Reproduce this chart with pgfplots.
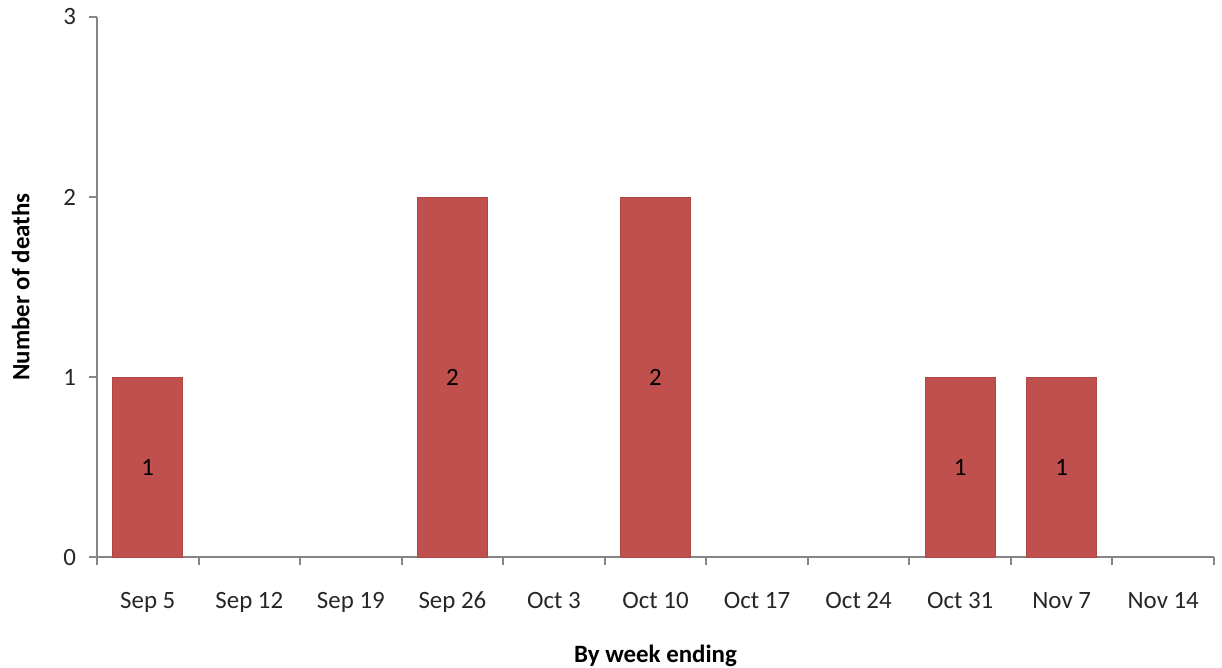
\documentclass[border=0pt]{standalone}
\usepackage{fontspec}
\setmainfont{Carlito}
\usepackage{pgfplots}
\pgfplotsset{compat=1.18}
\definecolor{barred}{HTML}{C0504D}
\definecolor{axgray}{HTML}{868686}
\begin{document}
\begin{tikzpicture}[x=1bp,y=1bp]
\useasboundingbox (-48.5,-55) rectangle (562.5,278.5);
\begin{axis}[
  at={(0,0)}, anchor=south west,
  scale only axis,
  width=558.5bp, height=270bp,
  xmin=-0.5, xmax=10.5,
  ymin=0, ymax=3,
  axis x line*=bottom,
  axis y line*=left,
  axis line style={axgray, line width=1bp},
  ytick={0,1,2,3},
  xtick={0,...,10},
  xticklabels={Sep 5,Sep 12,Sep 19,Sep 26,Oct 3,Oct 10,Oct 17,Oct 24,Oct 31,Nov 7,Nov 14},
  minor xtick={-0.5,0.5,...,10.5},
  major x tick style={draw=none},
  minor tick length=4bp,
  major tick length=4bp,
  tick align=outside,
  tick style={axgray, line width=1bp},
  /pgf/number format/assume math mode=true,
  x tick label style={font=\fontsize{12.5}{14}\selectfont, text=black!85, yshift=-10bp},
  y tick label style={font=\fontsize{12.5}{14}\selectfont, text=black!85, xshift=-3bp},
  xlabel={\bfseries By week ending},
  ylabel={\bfseries Number of deaths},
  xlabel style={font=\fontsize{12.5}{14}\selectfont, yshift=-9bp},
  ylabel style={font=\fontsize{12.5}{14}\selectfont, yshift=10bp},
  clip=false,
]
\addplot[ybar, bar width=35bp, fill=barred, draw=barred!90!black, line width=0.3bp] coordinates {
  (0,1) (3,2) (5,2) (8,1) (9,1)
};
\addplot[draw=none, mark=none, nodes near coords, point meta=explicit symbolic,
  every node near coord/.append style={anchor=center, font=\fontsize{12.5}{14}\selectfont, text=black}]
  coordinates {
  (0,0.5) [1] (3,1) [2] (5,1) [2] (8,0.5) [1] (9,0.5) [1]
};
\end{axis}
\end{tikzpicture}
\end{document}
